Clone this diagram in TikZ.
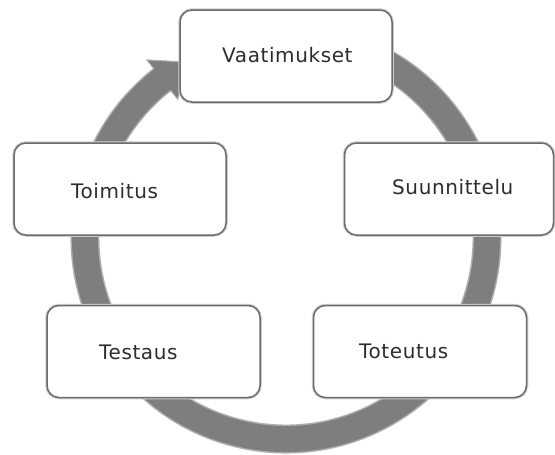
\documentclass[tikz,border=0pt]{standalone}
\usepackage{fontspec}
\setmainfont{DejaVu Sans}[LetterSpace=3]
\definecolor{ringgray}{RGB}{126,126,126}
\definecolor{ringhalo}{RGB}{175,175,175}
\definecolor{boxline}{RGB}{108,108,108}
\definecolor{boxhalo}{RGB}{205,205,205}
\definecolor{txt}{RGB}{45,45,45}
\tikzset{
  stepbox/.style={draw=boxline, line width=1.5pt, fill=white, rounded corners=12pt,
    minimum width=212pt, minimum height=92pt, inner sep=0pt, outer sep=0pt,
    preaction={draw=boxhalo, line width=3.5pt}},
  steplabel/.style={font=\fontsize{20}{24}\selectfont, text=txt, inner sep=0pt, anchor=base west},
  ringhaze/.style={draw=ringhalo, line width=29pt},
  ringband/.style={draw=ringgray, line width=26pt},
}
\begin{document}
\begin{tikzpicture}[x=1pt,y=1pt]
  \useasboundingbox (0,0) rectangle (555,-455);
  \fill[white] (0,0) rectangle (555,-455);
  % centre of the cycle
  \coordinate (c) at (286,-238);
  % circular band running clockwise, ending in an arrow head
  \draw[ringhaze] ([shift={(75:201)}]c) arc[start angle=75, end angle=-232, radius=201];
  \draw[ringband] ([shift={(75:201)}]c) arc[start angle=75, end angle=-232, radius=201];
  \coordinate (hb1) at ([shift={(128:226)}]c);
  \coordinate (hb2) at ([shift={(128:176)}]c);
  \coordinate (htip) at ([shift={(119:201)}]c);
  \filldraw[fill=ringgray, draw=ringhalo, line width=1pt, line join=miter] (hb1) -- (htip) -- (hb2) -- cycle;
  \fill[ringgray] ([shift={(128.6:188)}]c) -- ([shift={(128.6:214)}]c) -- ([shift={(127:214)}]c) -- ([shift={(127:188)}]c) -- cycle;
  % the five phases
  \node[stepbox] (vaat) at (286,-56) {};
  \node[stepbox] (toim) at (120,-189) {};
  \node[stepbox, minimum width=209pt] (suun) at (449,-189) {};
  \node[stepbox, minimum width=213pt] (test) at (153.5,-351.5) {};
  \node[stepbox, minimum width=213pt] (tote) at (420,-351.5) {};
  \node[steplabel] (vaatl) at (222,-63) {Vaatimukset};
  \node[steplabel] (toiml) at (71,-198) {Toimitus};
  \node[steplabel] (suunl) at (392,-194) {Suunnittelu};
  \node[steplabel] (testl) at (99,-359) {Testaus};
  \node[steplabel] (totel) at (359,-358) {Toteutus};
\end{tikzpicture}
\end{document}
